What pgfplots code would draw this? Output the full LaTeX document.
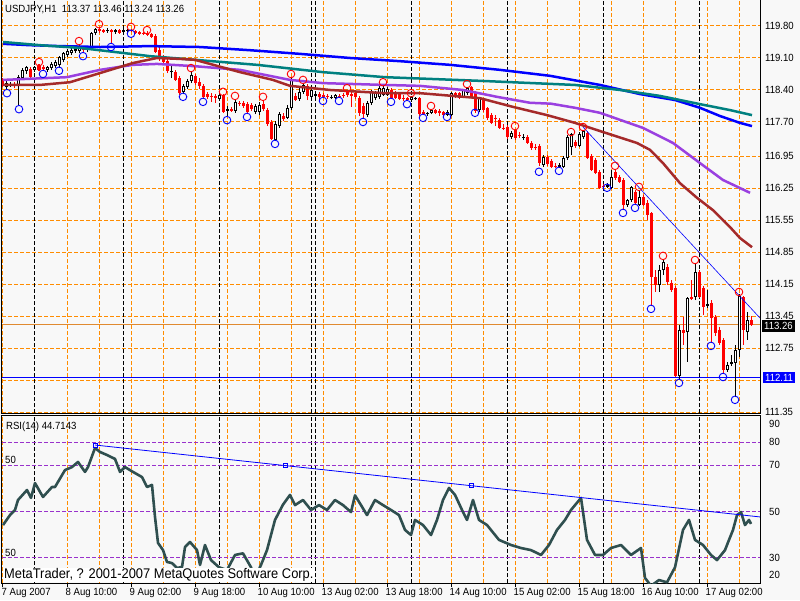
\documentclass[border=0pt]{standalone}
\usepackage{pgfplots}
\pgfplotsset{compat=1.18}
\usepackage{pgfplotstable}
\usepackage{fontspec}
\setmainfont{Liberation Sans}[FakeStretch=0.92]
\newcommand\mtfont{\fontsize{10.4}{12}\selectfont}
\newcommand\footfont{\fontsize{14}{16}\selectfont}

\definecolor{bg}{HTML}{F8F8F8}
\definecolor{gridor}{HTML}{FF8C00}
\definecolor{rsip}{HTML}{9932CC}
\definecolor{maPurple}{HTML}{9A40E0}
\definecolor{maBrown}{HTML}{A52A2A}
\definecolor{maTeal}{HTML}{008080}
\definecolor{rsiline}{HTML}{2F4F4F}
\definecolor{bidline}{HTML}{E08A30}

\pgfplotstableread{
i O H L C
1 118.47 118.60 118.40 118.55
2 118.51 118.57 118.47 118.53
4 118.51 118.73 118.05 118.68
5 118.66 118.88 118.62 118.84
6 118.82 118.92 118.75 118.90
8 118.84 118.92 118.79 118.90
11 118.84 118.92 118.79 118.90
12 118.88 119.01 118.84 118.97
13 118.92 119.06 118.88 119.01
14 118.95 119.14 118.88 119.12
15 119.06 119.23 119.01 119.21
16 119.17 119.30 119.12 119.25
17 119.21 119.32 119.17 119.27
18 119.25 119.34 119.21 119.30
19 119.25 119.41 119.21 119.34
21 119.27 119.36 119.23 119.34
22 119.32 119.67 119.27 119.65
23 119.65 119.76 119.60 119.73
26 119.69 119.76 119.65 119.71
28 119.67 119.73 119.63 119.71
30 119.67 119.73 119.63 119.71
31 119.69 119.73 119.65 119.71
42 118.79 118.92 118.66 118.82
45 118.36 118.53 118.31 118.49
46 118.47 118.64 118.42 118.60
47 118.60 118.82 118.55 118.73
54 118.20 118.31 118.16 118.29
56 117.94 118.05 117.81 117.98
58 117.94 118.20 117.90 118.14
63 117.92 118.09 117.87 118.05
64 117.92 118.14 117.85 118.07
68 117.31 117.72 117.28 117.66
69 117.61 117.92 117.57 117.87
71 117.79 118.07 117.77 118.01
72 118.01 118.68 117.96 118.62
74 118.20 118.44 118.16 118.36
75 118.36 118.55 118.31 118.51
77 118.25 118.44 118.20 118.40
78 118.27 118.33 118.22 118.31
82 118.22 118.29 118.20 118.25
83 118.22 118.31 118.20 118.29
91 117.85 118.16 117.81 118.12
92 118.12 118.40 118.07 118.36
93 118.22 118.38 118.18 118.33
94 118.25 118.49 118.20 118.44
95 118.29 118.51 118.27 118.44
96 118.29 118.47 118.27 118.42
102 118.18 118.27 118.14 118.25
103 118.20 118.25 118.18 118.22
106 117.87 117.92 117.83 117.90
107 117.90 117.98 117.87 117.96
111 117.85 117.96 117.83 117.92
112 117.85 118.36 117.83 118.33
115 118.25 118.42 118.22 118.40
116 118.33 118.47 118.29 118.44
119 117.96 118.25 117.92 118.22
127 117.37 117.50 117.33 117.46
130 117.35 117.44 117.31 117.37
135 116.76 116.98 116.71 116.93
139 116.71 116.80 116.69 116.76
140 116.71 116.96 116.69 116.91
141 116.91 117.41 116.87 117.37
142 117.15 117.46 116.98 117.44
144 117.17 117.48 117.15 117.44
145 117.37 117.52 117.33 117.50
151 116.28 116.36 116.26 116.32
152 116.26 116.65 116.23 116.50
156 115.88 116.01 115.84 115.99
157 115.99 116.30 115.95 116.28
159 115.88 116.21 115.86 116.06
164 114.13 114.57 113.98 114.46
165 114.46 114.70 114.35 114.64
169 112.14 113.26 112.05 113.15
171 113.10 113.87 112.45 113.85
173 113.87 114.61 113.80 114.42
176 113.67 114.02 113.63 113.72
181 112.27 112.45 112.23 112.38
182 112.40 112.60 112.36 112.45
183 112.43 112.82 111.68 112.71
184 112.71 113.94 112.56 113.89
186 113.10 113.54 112.93 113.37
}\bull

\pgfplotstableread{
i O H L C
0 118.62 118.66 118.47 118.51
3 118.53 118.57 118.44 118.49
7 118.86 118.90 118.66 118.68
9 118.92 118.97 118.82 118.84
10 118.90 118.95 118.82 118.86
20 119.32 119.36 119.21 119.27
24 119.73 119.78 119.65 119.69
25 119.71 119.73 119.65 119.67
27 119.71 119.73 119.41 119.67
29 119.71 119.73 119.63 119.65
32 119.71 119.73 119.67 119.69
33 119.69 119.71 119.63 119.65
34 119.67 119.69 119.60 119.63
35 119.65 119.67 119.60 119.63
36 119.65 119.69 119.58 119.60
37 119.63 119.65 119.54 119.56
38 119.58 119.63 119.21 119.23
39 119.27 119.36 119.03 119.10
40 119.12 119.17 118.97 119.01
41 119.03 119.10 118.77 118.82
43 118.79 118.84 118.60 118.62
44 118.66 118.71 118.29 118.33
48 118.71 118.75 118.51 118.55
49 118.57 118.66 118.42 118.49
50 118.49 118.53 118.20 118.25
51 118.31 118.36 118.20 118.25
52 118.27 118.33 118.14 118.25
53 118.27 118.31 118.12 118.22
55 118.29 118.31 117.90 117.92
57 117.98 118.03 117.92 117.94
59 118.12 118.16 118.05 118.09
60 118.12 118.16 118.01 118.05
61 118.09 118.14 117.87 117.92
62 118.07 118.12 117.94 117.98
65 118.09 118.18 117.94 117.98
66 117.96 118.01 117.61 117.66
67 117.70 117.74 117.31 117.33
70 117.83 117.90 117.72 117.77
73 118.27 118.33 118.16 118.18
76 118.49 118.53 118.18 118.27
79 118.31 118.36 118.18 118.25
80 118.29 118.33 118.22 118.25
81 118.27 118.31 118.20 118.25
84 118.27 118.31 118.22 118.25
85 118.29 118.33 118.22 118.27
86 118.36 118.38 118.25 118.29
87 118.31 118.38 118.03 118.27
88 118.33 118.38 118.20 118.25
89 118.22 118.27 117.83 117.90
90 118.05 118.12 117.77 117.87
97 118.40 118.44 118.20 118.22
98 118.33 118.38 118.20 118.22
99 118.31 118.36 118.18 118.20
100 118.22 118.29 118.16 118.20
101 118.22 118.25 118.16 118.18
104 118.22 118.25 117.83 117.87
105 117.92 117.96 117.85 117.87
108 117.96 117.98 117.87 117.90
109 117.94 117.98 117.83 117.90
110 117.92 117.94 117.83 117.85
113 118.33 118.36 118.22 118.25
114 118.33 118.36 118.20 118.22
117 118.47 118.49 118.22 118.24
118 118.33 118.38 117.90 117.94
120 118.18 118.22 117.92 117.96
121 118.01 118.03 117.74 117.79
122 117.85 117.90 117.66 117.68
123 117.79 117.85 117.61 117.77
124 117.74 117.79 117.55 117.57
125 117.57 117.66 117.52 117.55
126 117.59 117.63 117.33 117.37
128 117.52 117.55 117.31 117.35
129 117.41 117.48 117.35 117.39
131 117.37 117.41 117.22 117.24
132 117.24 117.28 117.09 117.13
133 117.15 117.22 117.09 117.13
134 117.17 117.22 116.74 116.80
136 116.93 116.98 116.74 116.78
137 116.85 116.89 116.69 116.71
138 116.74 116.80 116.69 116.71
143 117.26 117.31 117.13 117.17
146 117.46 117.50 116.89 116.91
147 116.96 117.00 116.63 116.65
148 116.87 116.91 116.56 116.58
149 116.61 116.65 116.23 116.26
150 116.30 116.34 116.23 116.28
153 116.61 116.67 116.43 116.47
154 116.50 116.54 116.36 116.39
155 116.43 116.47 115.77 115.88
158 116.17 116.21 115.88 115.93
160 116.06 116.10 115.86 115.88
161 115.93 115.99 115.55 115.66
162 115.71 115.73 113.67 114.31
163 114.31 114.46 113.98 114.13
166 114.53 114.59 114.13 114.20
167 114.18 114.24 113.98 114.02
168 114.07 114.11 112.11 112.14
170 113.15 113.43 112.82 113.08
172 113.87 114.24 113.80 113.83
174 114.42 114.46 113.85 113.87
175 114.07 114.11 113.48 113.65
177 113.74 113.80 112.86 113.41
178 113.43 113.48 113.02 113.08
179 113.15 113.21 112.82 112.86
180 112.93 112.97 112.19 112.27
185 113.87 113.89 112.82 113.15
187 113.37 113.46 113.24 113.26
}\bear

\begin{document}
\begin{tikzpicture}
\fill[bg] (0,0) rectangle (800pt,600pt);
\path[use as bounding box] (0,0) rectangle (800pt,600pt);

% ---------------- main price panel ----------------
\begin{axis}[
  at={(2pt,187pt)}, anchor=south west,
  width=758pt, height=413pt, scale only axis,
  xmin=-0.25, xmax=189.25, ymin=111.332, ymax=120.369,
  axis line style={black, line width=1pt},
  xtick={0,16,...,176}, minor xtick={8,24,...,184}, xticklabels={},
  ytick={111.35,112.05,112.75,113.45,114.15,114.85,115.55,116.25,116.95,117.70,118.40,119.10,119.80},
  yticklabels={111.35,,112.75,113.45,114.15,114.85,115.55,116.25,116.95,117.70,118.40,119.10,119.80},
  yticklabel pos=right,
  major tick length=0pt, minor tick length=0pt,
  xmajorgrids, xminorgrids, ymajorgrids,
  grid style={gridor, dash pattern=on 4pt off 2pt, line width=1pt},
  extra x ticks={8,30,54,77,78,102,126,150,174}, extra x tick labels={},
  extra x tick style={major grid style={black, dash pattern=on 4pt off 2pt, line width=1pt}},
  tick label style={font=\mtfont},
  yticklabel style={anchor=west, inner sep=0pt, xshift=5pt},
]
% price line and support line
\addplot[bidline, line width=1pt] coordinates {(-0.25,113.26) (189.25,113.26)};
\addplot[blue, line width=1pt] coordinates {(-0.25,112.11) (189.25,112.11)};
% wicks
\addplot[black, line width=1pt, -, quiver={u=0, v=\thisrow{H}-\thisrow{L}}] table[x=i, y=L] {\bull};
\addplot[red, line width=1pt, -, quiver={u=0, v=\thisrow{H}-\thisrow{L}}] table[x=i, y=L] {\bear};
% bodies
\addplot[red, line width=3pt, -, quiver={u=0, v=\thisrow{C}-\thisrow{O}}] table[x=i, y=O] {\bear};
\addplot[black, line width=3pt, -, quiver={u=0, v=\thisrow{C}-\thisrow{O}}] table[x=i, y=O] {\bull};
\addplot[white, line width=1pt, -, shorten <=1pt, shorten >=1pt, quiver={u=0, v=\thisrow{C}-\thisrow{O}},
  x filter/.expression={(\thisrow{C}-\thisrow{O})>0.05 ? x : nan}] table[x=i, y=O] {\bull};
% moving averages
\addplot[blue, line width=2.5pt] coordinates {(0,119.41) (6.75,119.38) (14.25,119.36) (24.25,119.34) (36.75,119.36) (49.25,119.34) (61.75,119.27) (74.25,119.19) (86.75,119.10) (99.25,119.03) (111.75,118.95) (124.25,118.84) (136.75,118.71) (149.25,118.51) (159.25,118.31) (168,118.18) (174.25,118.01) (179.25,117.83) (184.25,117.68) (187.25,117.61)};
\addplot[maTeal, line width=2.5pt] coordinates {(0,119.45) (9.25,119.38) (19.25,119.32) (30,119.21) (36.75,119.14) (48,119.06) (63.5,118.95) (80,118.79) (95.5,118.68) (119.25,118.60) (143,118.51) (154.25,118.40) (164.25,118.27) (174.25,118.09) (181.75,117.96) (187.25,117.85)};
\addplot[maPurple, line width=2.5pt] coordinates {(0,118.62) (16,118.68) (24.25,118.84) (32.5,118.95) (38.5,118.97) (48,118.92) (59.25,118.84) (71.75,118.62) (80,118.55) (95.5,118.51) (104.25,118.49) (115,118.40) (123.5,118.25) (131.75,118.12) (137,118.10) (143,118.01) (149.25,117.90) (160,117.57) (167.5,117.24) (174.25,116.80) (180,116.43) (186.75,116.15)};
\addplot[maBrown, line width=2.5pt] coordinates {(0,118.51) (9.25,118.51) (16.75,118.57) (24.25,118.77) (32.5,118.99) (38.5,119.10) (44.25,119.08) (48,119.06) (59.25,118.79) (67.5,118.62) (71.75,118.49) (81.75,118.40) (95.5,118.33) (104.25,118.33) (119.25,118.22) (127.5,118.03) (136,117.85) (143,117.68) (150,117.48) (158.5,117.24) (161.75,117.09) (165,116.80) (169.25,116.36) (173.5,116.04) (177.5,115.77) (181.75,115.40) (184.25,115.16) (187.25,114.96)};
% trend line
\addplot[blue, line width=0.6pt] coordinates {(145,117.59) (189.25,113.41)};
% fractals
\addplot[only marks, mark=o, mark size=3.8pt, red, mark options={line width=0.9pt}] coordinates {
(9,119.01) (19,119.47) (24,119.84) (32,119.78) (36,119.71) (47,118.88) (55,118.36) (58,118.27) (65,118.25) (72,118.75) (75,118.62) (86,118.44) (95,118.57) (102,118.33) (107,118.05) (116,118.53) (128,117.61) (142,117.48) (145,117.59) (153,116.74) (159,116.28) (165,114.77) (173,114.68) (184,113.98)};
\addplot[only marks, mark=o, mark size=3.8pt, blue, mark options={line width=0.9pt}] coordinates {
(1,118.33) (4,117.98) (10,118.75) (14,118.82) (20,119.14) (27,119.34) (32,119.63) (45,118.25) (50,118.14) (56,117.74) (61,117.81) (68,117.22) (80,118.16) (84,118.16) (90,117.70) (97,118.14) (101,118.09) (105,117.79) (111,117.81) (118,117.90) (134,116.61) (139,116.63) (151,116.26) (155,115.71) (158,115.82) (162,113.61) (169,111.99) (177,112.80) (180,112.12) (183,111.62)};
\end{axis}

% ---------------- RSI panel ----------------
\begin{axis}[
  at={(2pt,17pt)}, anchor=south west,
  width=758pt, height=167pt, scale only axis,
  xmin=-0.25, xmax=189.25, ymin=19.22, ymax=91.21,
  axis line style={black, line width=1pt},
  xtick={0,16,...,176}, minor xtick={8,24,...,184},
  xticklabels={7 Aug 2007, 8 Aug 10:00, 9 Aug 02:00, 9 Aug 18:00, 10 Aug 10:00, 13 Aug 02:00, 13 Aug 18:00, 14 Aug 10:00, 15 Aug 02:00, 15 Aug 18:00, 16 Aug 10:00, 17 Aug 02:00},
  xtick pos=left, tick align=outside,
  major tick length=4pt, minor tick length=0pt,
  xtick style={black, line width=1pt},
  ytick={22.67,30,50,70,80,87.76}, yticklabels={20,30,50,70,80,90},
  yticklabel pos=right, ytick style={draw=none},
  xmajorgrids, xminorgrids,
  grid style={gridor, dash pattern=on 4pt off 2pt, line width=1pt},
  extra x ticks={8,30,54,77,78,102,126,150,174}, extra x tick labels={},
  extra x tick style={major grid style={black, dash pattern=on 4pt off 2pt, line width=1pt}, major tick length=0pt},
  tick label style={font=\mtfont},
  yticklabel style={anchor=west, inner sep=0pt, xshift=5pt},
  xticklabel style={anchor=north west, inner sep=0pt, xshift=-1.5pt, yshift=-1pt},
]
\addplot[rsip, line width=1pt, dash pattern=on 4pt off 2pt] coordinates {(-0.25,80) (189.25,80)};
\addplot[rsip, line width=1pt, dash pattern=on 4pt off 2pt] coordinates {(-0.25,70) (189.25,70)};
\addplot[rsip, line width=1pt, dash pattern=on 4pt off 2pt] coordinates {(-0.25,50) (189.25,50)};
\addplot[rsip, line width=1pt, dash pattern=on 4pt off 2pt] coordinates {(-0.25,30) (189.25,30)};
\addplot[rsiline, line width=2.6pt, line join=round] coordinates {
(0,44.2) (1.75,48.5) (3,50.7) (3.75,55.0) (6,59.3) (7,55.9) (8,62.3) (10,56.3) (12.25,60.6) (13,60.6) (15.5,67.9) (17.25,69.2) (18.75,71.4) (20.5,67.1) (21.25,69.2) (23,77.4) (24.25,75.7) (26,74.4) (28,72.7) (29.25,67.1) (30.5,69.2) (32.5,67.1) (34.75,64.9) (36,60.6) (37.25,61.5) (38,47.7) (38.75,36.5) (40,33.4) (41,28.3) (42.25,27.8) (43.5,25.7) (44.75,26.1) (45.5,34.7) (46.75,36.9) (48.5,33.4) (49.25,27.0) (50.5,35.6) (52,29.1) (54,26.0) (56,24.8) (58,31.3) (60,32.0) (62,26.0) (63,21.4) (64.5,27.0) (66,33.4) (68,46.4) (70,53.0) (71.75,57.2) (73,52.8) (75,55.0) (77,50.7) (79,52.8) (81,50.7) (83,55.0) (85,52.8) (87,49.8) (88,57.0) (89.5,52.8) (91,48.5) (93,55.0) (95,52.8) (97,50.7) (99,48.5) (100.5,42.1) (102,39.9) (103,46.4) (105,44.2) (107,39.9) (108.5,46.4) (110,55.0) (111.5,60.2) (113,57.2) (115,49.8) (116,46.4) (117.5,55.0) (119,46.4) (121,44.2) (124,37.8) (127,35.6) (129.5,34.3) (132,33.4) (134.5,31.3) (136.5,35.6) (138.5,42.1) (140.5,46.4) (142,50.7) (144.5,55.9) (146,37.8) (148,31.3) (150,31.3) (152,34.3) (154.5,35.6) (157,31.3) (159.5,34.3) (160.5,21.4) (162,18.0) (164,20.5) (166,19.5) (168,26.0) (170,42.1) (171.5,46.4) (173,37.8) (175,35.6) (177,31.3) (178.5,29.1) (180.5,33.4) (181.5,37.8) (182.5,42.1) (183.5,48.5) (184.5,49.8) (185.5,44.2) (186.5,46.4) (187,44.7)};
\addplot[blue, line width=0.8pt] coordinates {(23,78.7) (189.25,47.7)};
\addplot[only marks, mark=square, mark size=2pt, blue, mark options={line width=0.8pt, fill=white}] coordinates {(23,78.7) (70.5,69.8) (117,61.2)};
\end{axis}

% ---------------- text ----------------
\node[anchor=west, inner sep=0pt, font=\mtfont] at (5pt,590pt) {USDJPY,H1\ \ 113.37 113.46 113.24 113.26};
\node[anchor=west, inner sep=0pt, font=\mtfont] at (6pt,173pt) {RSI(14) 44.7143};
\node[anchor=west, inner sep=0pt, font=\mtfont] at (5pt,140pt) {50};
\node[anchor=west, inner sep=0pt, font=\mtfont] at (5pt,47pt) {50};
\node[anchor=south west, fill=white, inner xsep=1.5pt, inner ysep=0.5pt, font=\footfont] at (2.5pt,17.5pt) {MetaTrader, ? 2001-2007 MetaQuotes Software Corp.};
\node[anchor=west, fill=black, text=white, inner xsep=2pt, inner ysep=2pt, font=\mtfont] at (762pt,274pt) {113.26};
\node[anchor=west, fill=blue, text=white, inner xsep=2pt, inner ysep=2pt, font=\mtfont] at (763pt,222.5pt) {112.11};
\end{tikzpicture}
\end{document}
